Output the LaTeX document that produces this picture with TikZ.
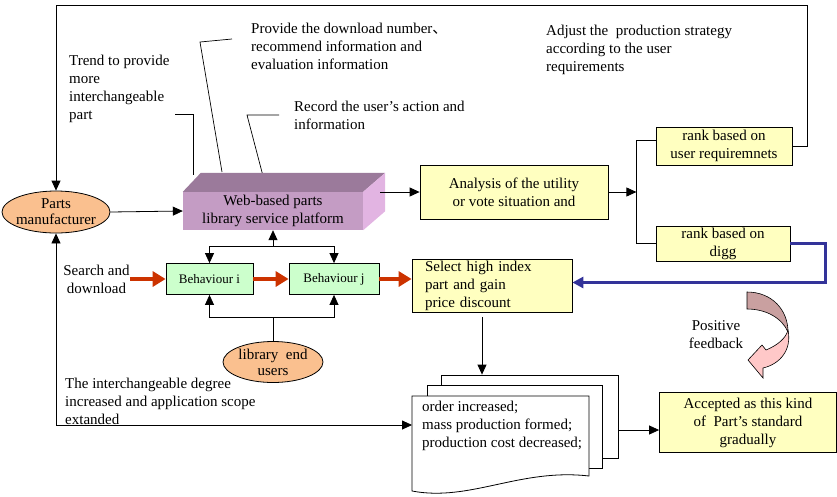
\documentclass[tikz,border=0pt]{standalone}
\usepackage{fontspec}
\setmainfont{Liberation Serif}
\newfontfamily\cjk{Noto Sans CJK SC}
\usetikzlibrary{shapes.geometric,arrows.meta,calc}

\definecolor{orng}{RGB}{250,192,143}
\definecolor{ylw}{RGB}{255,255,192}
\definecolor{grn}{RGB}{204,255,204}
\definecolor{platT}{RGB}{155,122,155}
\definecolor{platF}{RGB}{196,156,196}
\definecolor{platS}{RGB}{226,180,226}
\definecolor{redc}{RGB}{204,51,0}
\definecolor{bluec}{RGB}{51,51,153}
\definecolor{fbD}{RGB}{201,160,160}
\definecolor{fbL}{RGB}{255,200,200}

\begin{document}
\begin{tikzpicture}[x=1pt,y=-1pt,font=\fontsize{15}{18}\selectfont,
    box/.style={draw,line width=0.8pt,fill=ylw,align=center,inner sep=0pt},
    gbox/.style={draw,line width=0.8pt,fill=grn,inner sep=0pt,minimum width=87,minimum height=31,font=\fontsize{13}{15}\selectfont},
    oval/.style={ellipse,draw,line width=0.8pt,fill=orng,inner sep=0pt},
    page/.style={draw,line width=0.8pt,fill=white,inner sep=0pt},
    txt/.style={align=left,inner sep=0pt,anchor=west},
    arr/.style={line width=0.8pt,-{Triangle[length=10pt,width=9pt]}},
    redarr/.style={draw=redc,line width=4.5pt,-{Triangle[length=13pt,width=15pt]}},
    bluearr/.style={draw=bluec,line width=3pt,-{Triangle[length=11pt,width=11pt]}}]

    \useasboundingbox (0,0) rectangle (837,496);

    % texts
    \node[txt] (trend) at (69,89) {Trend to provide\\more\\interchangeable\\part};
    \node[txt] (prov) at (251,46) {Provide the download number{\cjk 、}\\recommend information and\\evaluation information};
    \node[txt] (rec) at (294,115.5) {Record the user's action and\\information};
    \node[txt] (adj) at (546,50) {Adjust the \ production strategy\\according to the user\\requirements};
    \node[txt] (inter) at (65,401) {The interchangeable degree\\increased and application scope\\extanded};

    \draw[line width=0.7pt] (175,114) -- (193,114) -- (193,175);
    \draw[line width=0.7pt] (232,39) -- (200,42) -- (222,172);
    \draw[line width=0.7pt] (279,115) -- (247,115) -- (263,176);

    % platform
    \node[fill=platF,minimum width=180,minimum height=38,inner sep=0pt,align=center] (plat) at (273,211) {Web-based parts\\library service platform};
    \fill[platT] (plat.north west) -- ++(18,-19) -- ($(plat.north east)+(22,-19)$) -- (plat.north east) -- cycle;
    \fill[platS] (plat.north east) -- ++(22,-19) -- ($(plat.south east)+(22,-19)$) -- (plat.south east) -- cycle;

    \node[oval,minimum width=108,minimum height=42] (pm) at (56,212) {};
    \node[align=center,inner sep=0pt,font=\fontsize{15}{16}\selectfont] (pmtxt) at (pm.center) {Parts\\manufacturer};

    \node[box,minimum width=188,minimum height=54] (anal) at (514,192) {Analysis of the utility\\or vote situation and};
    \node[box,minimum width=136,minimum height=38] (rkU) at (724,146) {rank based on\\user requiremnets};
    \node[box,minimum width=134,minimum height=35] (rkD) at (723,243.5) {rank based on\\digg};
    \node[box,minimum width=160,minimum height=53,text width=134,align=left] (sel) at (492,286) {Select high index\\part and gain\\price discount};
    \node[box,minimum width=177,minimum height=60] (acc) at (748,422.5) {Accepted as this kind\\of~ Part's standard\\gradually};

    \node[gbox] (bi) at (209.5,279) {Behaviour i};
    \node[gbox,minimum width=90] (bj) at (334,279) {Behaviour j};
    \node[align=center,inner sep=0pt] (sd) at (96.5,279) {Search and\\download};

    \node[oval,minimum width=100,minimum height=41] (leu) at (273,362) {};
    \node[align=center,inner sep=0pt,font=\fontsize{15}{16}\selectfont] (leutxt) at (leu.center) {library~ end\\users};

    % document stack
    \node[page,minimum width=177,minimum height=83] (pg3) at (529.5,416.5) {};
    \node[page,minimum width=175,minimum height=83] (pg2) at (514.5,426.5) {};
    \filldraw[fill=white,line width=0.8pt] (412,396) -- (589,396) -- (589,476) .. controls (520,468) and (470,502) .. (412,491) -- cycle;
    \node[txt] (ord) at (422,426) {order increased;\\mass production formed;\\production cost decreased;};
    \coordinate (docin) at (412,425);

    \node[align=center,inner sep=0pt] (pf) at (716,335) {Positive\\feedback};
    \filldraw[fill=fbD,line width=0.6pt] (747,292) .. controls (772,292) and (788,310) .. (788,332) .. controls (782,318) and (766,309) .. (747,309) -- cycle;
    \filldraw[fill=fbL,line width=0.6pt] (788,330) .. controls (792,350) and (780,364) .. (763,368) -- (763,378) -- (748,360) -- (762,345) -- (766,350) .. controls (778,345) and (786,338) .. (788,330) -- cycle;

    % connectors
    \draw[arr] (pm.east) -- (plat.west);
    \draw[arr] ([xshift=17]plat.east |- anal.west) -- (anal.west);
    \coordinate (split) at ($(anal.east)+(28,0)$);
    \draw[arr] (anal.east) -- (split);
    \draw[line width=0.8pt] ([yshift=6]rkU.west) -| (split) |- (rkD.west);
    \draw[arr] (rkU.east) -- ++(15,0) -- ++(0,-141) -| (pm.north);
    \draw[bluearr] (rkD.east) -- ++(35,0) |- ([yshift=3.5]sel.east);

    \coordinate (btop) at ($(plat.south)+(0,16)$);
    \draw[arr] (btop) -- (plat.south);
    \draw[arr] (btop) -| (bi.north);
    \draw[arr] (btop) -| (bj.north);
    \coordinate (bbot) at ($(leu.north)+(0,-24)$);
    \draw[line width=0.8pt] (leu.north) -- (bbot);
    \draw[arr] (bbot) -| (bi.south);
    \draw[arr] (bbot) -| (bj.south);

    \draw[redarr] (sd.east) -- (bi.west);
    \draw[redarr] (bi.east) -- (bj.west);
    \draw[redarr] (bj.east) -- (bj.east -| sel.west);

    \draw[arr] ([shift={(-10pt,-4pt)}]sel.south) -- ([xshift=-10]sel.south |- pg3.north);
    \coordinate (accin) at ([yshift=-7.5]acc.west);
    \draw[arr] (pg3.east |- accin) -- (accin);
    \draw[line width=0.8pt,{Triangle[length=10pt,width=9pt]}-{Triangle[length=10pt,width=9pt]}] (pm.south) |- (docin);
  \end{tikzpicture}
\end{document}
